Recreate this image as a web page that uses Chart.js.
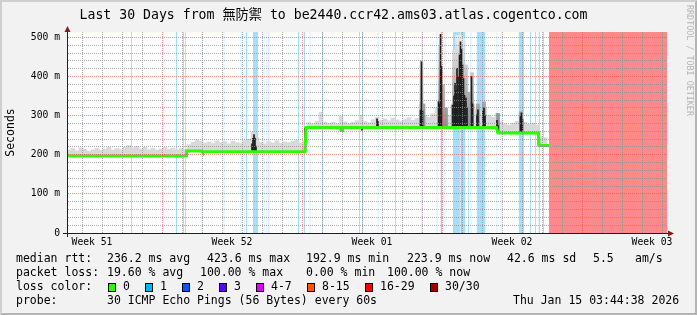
<!DOCTYPE html>
<html>
<head>
<meta charset="utf-8">
<script src="https://cdn.jsdelivr.net/npm/chart.js@4.4.1/dist/chart.umd.min.js"></script>
<style>
  html, body { margin: 0; padding: 0; background: #f2f2f2; }
  canvas { display: block; }
</style>
</head>
<body>
<canvas id="smokeChart" width="697" height="315"></canvas>
<script>
// x axis = hours since the start of the 30 day window (0..720)
const weekLabels = ['Week 51', 'Week 52', 'Week 01', 'Week 02', 'Week 03'];
const weekLabelHours = [30, 198, 366, 534, 702];
const weekStartHours = [114, 282, 450, 618];
const dayStartHours = [18, 42, 66, 90, 114, 138, 162, 186, 210, 234, 258, 282, 306, 330, 354,
  378, 402, 426, 450, 474, 498, 522, 546, 570, 594, 618, 642, 666, 690, 714];

// median rtt (ms)
const medianHours = [0, 142.8, 143.4, 162.0, 162.6, 285.6, 286.8, 328.2, 328.8, 330.0, 330.6, 515.4, 517.2, 565.8, 566.4, 578.4];
const medianMs = [197, 197, 210, 210, 208, 208, 270, 270, 262, 262, 270, 270, 256, 256, 224, 224];

// smoke: upper edge of the ping spread, one sample every 4.8 h
const smokeMs = [
  212, 216, 210, 218, 214, 209, 213, 217, 211, 215, 219, 212, 216, 213, 220, 224, 218, 221, 215, 219,
  213, 217, 212, 215, 219, 214, 217, 212, 216, 214,
  226, 232, 238, 235, 230, 233, 229, 236, 231, 234, 228, 235, 231, 229, 236, 240, 258, 244, 232, 228,
  234, 230, 236, 229, 233, 231, 235, 238, 230, 236,
  282, 279, 286, 309, 284, 280, 283, 279, 298, 284, 280, 283, 287, 301, 286, 282, 290, 296, 288, 292,
  287, 294, 289, 286,
  290, 295, 288, 293, 330, 300, 296, 305, 320, 350, 315, 300, 330, 360, 380, 350, 320, 330, 318, 312,
  320, 300, 296, 305,
  284, 279, 276, 281, 286, 310, 283, 278, 281, 276, 246, 244
];

// dark spikes of the median / dense smoke
const spikeHours = [222.0, 223.2, 224.4, 225.6, 226.8, 285.6, 329.4, 354.0, 372.0, 373.2,
  424.2, 425.4, 426.6, 445.8, 447.0, 448.2, 449.4, 462.6, 464.4, 465.6, 466.8, 468.0, 469.2,
  471.0, 472.2, 473.4, 474.6, 475.8, 477.0, 478.8, 480.0, 485.4, 486.6, 492.0, 493.2, 499.2,
  500.4, 501.6, 516.0, 517.2, 544.2, 545.4, 546.6, 565.8];
const spikeMs = [228, 242, 252, 243, 222, 268, 262, 262, 292, 285,
  314, 438, 312, 336, 330, 508, 426, 327, 350, 383, 365, 421, 400,
  455, 489, 470, 430, 395, 352, 345, 320, 400, 330, 302, 315, 311,
  320, 300, 288, 275, 298, 307, 290, 224];

// grey haze around the spikes
const hazeHours = [425.4, 427.8, 447.6, 451.2, 454.8, 464.4, 468.0, 471.6, 475.2, 478.8, 482.4, 486.0, 493.2, 500.4, 517.2, 544.8];
const hazeMs = [440, 330, 480, 380, 320, 470, 505, 505, 500, 430, 360, 410, 330, 335, 306, 310];

// packet loss periods (level = lost pings out of 30)
const lossStartHours = [76.8, 130.8, 139.2, 141.6, 161.4, 187.8, 208.2, 211.8, 214.8, 223.2, 235.8, 239.4, 241.8,
  277.2, 284.4, 291.0, 306.0, 350.4, 354.0, 372.6, 393.6, 425.4, 443.4, 448.2, 453.0, 463.2, 472.2, 474.0,
  481.2, 484.2, 491.4, 515.4, 520.2, 541.8, 555.6, 561.6, 565.8, 571.2, 578.4];
const lossEndHours = [78.0, 132.0, 140.4, 142.8, 162.6, 189.0, 209.4, 213.0, 216.0, 229.2, 237.0, 240.6, 243.0,
  278.4, 285.6, 292.2, 307.2, 351.6, 355.2, 373.8, 394.8, 426.6, 444.6, 450.0, 454.2, 472.2, 474.0, 478.2,
  482.4, 485.4, 502.2, 516.6, 521.4, 548.4, 556.8, 562.8, 567.6, 572.4, 720];
const lossLevel = [1, 1, 1, 1, 1, 1, 1, 1, 1, 1, 1, 1, 2,
  1, 1, 1, 1, 1, 1, 1, 1, 4, 1, 4, 1, 1, 2, 1,
  1, 1, 1, 1, 1, 1, 1, 1, 1, 1, 30];

const rttStats = ['236.2 ms avg', '423.6 ms max', '192.9 ms min', '223.9 ms now', '42.6 ms sd', '5.5', 'am/s'];
const lossStats = ['19.60 % avg', '100.00 % max', '0.00 % min', '100.00 % now'];
const lossColorLabels = ['0', '1', '2', '3', '4-7', '8-15', '16-29', '30/30'];
const lossColors = ['#26ff00', '#00b8ff', '#0059ff', '#5e00ff', '#dd00ff', '#ff5500', '#ff0000', '#a00000'];

const Y_MAX = 514;
const MONO = '"DejaVu Sans Mono", "Noto Sans CJK TC", monospace';
const GRID = 'rgba(143,143,143,0.75)';
const MGRID = 'rgba(222,79,79,0.6)';

function medianAt(t) {
  for (let i = 1; i < medianHours.length; i++) {
    if (t <= medianHours[i]) {
      const t0 = medianHours[i - 1], t1 = medianHours[i];
      const f = t1 === t0 ? 1 : (t - t0) / (t1 - t0);
      return medianMs[i - 1] + f * (medianMs[i] - medianMs[i - 1]);
    }
  }
  return medianMs[medianMs.length - 1];
}

function lossBand(level) {
  const pts = [];
  lossStartHours.forEach((s, i) => {
    if (lossLevel[i] !== level) return;
    pts.push({x: s, y: Y_MAX}, {x: lossEndHours[i], y: Y_MAX}, {x: lossEndHours[i], y: null});
  });
  return pts;
}

function bandSet(level, color) {
  return {
    type: 'line', data: lossBand(level), order: 10,
    borderWidth: 0, borderColor: 'transparent', backgroundColor: color,
    pointRadius: 0, fill: 'origin', spanGaps: false
  };
}

const smokeHours = smokeMs.map((_, i) => 2.4 + i * 4.8);

const frame = {
  id: 'rrdFrame',
  beforeDraw(chart) {
    const {ctx, chartArea: a, width: w, height: h} = chart;
    ctx.save();
    ctx.fillStyle = '#f2f2f2';
    ctx.fillRect(0, 0, w, h);
    ctx.fillStyle = '#cfcfcf';
    ctx.beginPath();
    ctx.moveTo(0, 0); ctx.lineTo(w, 0); ctx.lineTo(w - 2, 2); ctx.lineTo(2, 2); ctx.lineTo(2, h - 2); ctx.lineTo(0, h);
    ctx.closePath(); ctx.fill();
    ctx.fillStyle = '#b4b4b4';
    ctx.beginPath();
    ctx.moveTo(w, 0); ctx.lineTo(w, h); ctx.lineTo(0, h); ctx.lineTo(2, h - 2); ctx.lineTo(w - 2, h - 2); ctx.lineTo(w - 2, 2);
    ctx.closePath(); ctx.fill();
    ctx.fillStyle = '#ffffff';
    ctx.fillRect(a.left, a.top, a.right - a.left, a.bottom - a.top);
    ctx.restore();
  },
  afterDraw(chart) {
    const {ctx, chartArea: a} = chart;
    ctx.save();
    // axis extensions and arrows
    ctx.strokeStyle = '#1f1f1f';
    ctx.lineWidth = 1;
    ctx.beginPath();
    ctx.moveTo(a.left - 4, a.bottom + 0.5); ctx.lineTo(a.right + 2, a.bottom + 0.5);
    ctx.moveTo(a.left + 0.5, a.bottom + 4); ctx.lineTo(a.left + 0.5, a.top - 1);
    ctx.stroke();
    ctx.fillStyle = '#801f1f';
    ctx.beginPath();
    ctx.moveTo(a.right + 7, a.bottom + 0.5); ctx.lineTo(a.right + 1, a.bottom - 2.5); ctx.lineTo(a.right + 1, a.bottom + 3.5);
    ctx.closePath(); ctx.fill();
    ctx.beginPath();
    ctx.moveTo(a.left + 0.5, a.top - 6); ctx.lineTo(a.left - 2.5, a.top); ctx.lineTo(a.left + 3.5, a.top);
    ctx.closePath(); ctx.fill();

    // legend block
    ctx.font = '11.5px ' + MONO;
    ctx.fillStyle = '#000';
    ctx.textBaseline = 'middle';
    const rowY = [259.5, 273.5, 287.5, 301.5];
    ctx.fillText('median rtt:', 16, rowY[0]);
    [107, 207, 306, 407, 507, 593, 635].forEach((x, i) => ctx.fillText(rttStats[i], x, rowY[0]));
    ctx.fillText('packet loss:', 16, rowY[1]);
    [107, 200, 306, 387].forEach((x, i) => ctx.fillText(lossStats[i], x, rowY[1]));
    ctx.fillText('loss color:', 16, rowY[2]);
    const boxX = [108, 145, 182, 219, 256, 307, 365, 430];
    lossColorLabels.forEach((lab, i) => {
      ctx.fillStyle = '#000';
      ctx.fillRect(boxX[i], rowY[2] - 4.5, 8, 9);
      ctx.fillStyle = lossColors[i];
      ctx.fillRect(boxX[i] + 1, rowY[2] - 3.5, 6, 7);
      ctx.fillStyle = '#000';
      ctx.fillText(lab, boxX[i] + 15, rowY[2]);
    });
    ctx.fillText('probe:', 16, rowY[3]);
    ctx.fillText('30 ICMP Echo Pings (56 Bytes) every 60s', 107, rowY[3]);
    ctx.fillText('Thu Jan 15 03:44:38 2026', 513, rowY[3]);

    // watermark
    ctx.font = '8.4px ' + MONO;
    ctx.fillStyle = '#b4b4b4';
    ctx.translate(689, 5);
    ctx.rotate(Math.PI / 2);
    ctx.fillText('RRDTOOL / TOBI OETIKER', 0, 0);
    ctx.restore();
  }
};

new Chart(document.getElementById('smokeChart'), {
  type: 'bar',
  data: {
    datasets: [
      bandSet(1, '#a4e0fa'),
      bandSet(2, '#a6c0ff'),
      bandSet(4, '#f0a2f0'),
      bandSet(30, '#ff8888'),
      {
        type: 'bar', order: 5, grouped: false, barThickness: 4, borderWidth: 0,
        backgroundColor: '#d9d9d9',
        data: smokeHours.map((t, i) => ({x: t, y: [medianAt(t), smokeMs[i]]}))
      },
      {
        type: 'bar', order: 4, grouped: false, barThickness: 3, borderWidth: 0,
        backgroundColor: (c) => {
          const {ctx, chartArea, scales} = c.chart;
          if (!chartArea) return '#b8b8b8';
          const g = ctx.createLinearGradient(0, scales.y.getPixelForValue(505), 0, scales.y.getPixelForValue(270));
          g.addColorStop(0, '#ececec');
          g.addColorStop(1, '#8c8c8c');
          return g;
        },
        data: hazeHours.map((t, i) => ({x: t, y: [medianAt(t), hazeMs[i]]}))
      },
      {
        type: 'bar', order: 3, grouped: false, barThickness: 1, borderWidth: 0,
        backgroundColor: '#1e1e1e',
        data: spikeHours.map((t, i) => ({x: t, y: [medianAt(t), spikeMs[i]]}))
      },
      {
        type: 'line', order: 1,
        data: medianHours.map((t, i) => ({x: t, y: medianMs[i]})),
        borderColor: '#26ff00', borderWidth: 3, pointRadius: 0, tension: 0, fill: false
      }
    ]
  },
  options: {
    responsive: false,
    animation: false,
    devicePixelRatio: 1,
    layout: {padding: {left: 0, right: 30, top: 0, bottom: 0}, autoPadding: false},
    plugins: {
      legend: {display: false},
      tooltip: {enabled: false},
      title: {
        display: true,
        text: 'Last 30 Days from 無防禦 to be2440.ccr42.ams03.atlas.cogentco.com',
        color: '#000',
        font: {family: MONO, size: 13.2, weight: 'normal'},
        padding: {top: 8, bottom: 8.16}
      }
    },
    scales: {
      x: {
        type: 'linear', min: 0, max: 720, offset: false,
        afterFit: (s) => { s.height = 82; },
        afterBuildTicks: (s) => {
          s.ticks = dayStartHours.concat(weekLabelHours).sort((p, q) => p - q).map(v => ({value: v}));
        },
        ticks: {
          autoSkip: false, maxRotation: 0, padding: 4, color: '#000',
          font: {family: MONO, size: 9.7},
          callback: (v) => {
            const i = weekLabelHours.indexOf(v);
            return i >= 0 ? weekLabels[i] : '';
          }
        },
        grid: {
          z: 1, drawTicks: false, offset: false, lineWidth: 1,
          color: (c) => {
            const v = c.tick ? c.tick.value : null;
            if (weekStartHours.includes(v)) return MGRID;
            if (dayStartHours.includes(v)) return GRID;
            return 'rgba(0,0,0,0)';
          }
        },
        border: {display: true, color: '#1f1f1f', width: 1, dash: [1, 1], z: 1}
      },
      y: {
        min: 0, max: Y_MAX,
        afterFit: (s) => { s.width = 67; },
        ticks: {
          stepSize: 20, includeBounds: false, autoSkip: false, padding: 7, color: '#000',
          font: {family: MONO, size: 9.7},
          callback: (v) => (v % 100 === 0 ? (v === 0 ? '0' : v + ' m') : '')
        },
        grid: {
          z: 1, drawTicks: false, lineWidth: 1,
          color: (c) => {
            const v = c.tick ? c.tick.value : 0;
            if (v === 0) return 'rgba(0,0,0,0)';
            return v % 100 === 0 ? MGRID : GRID;
          }
        },
        border: {display: true, color: '#1f1f1f', width: 1, dash: [1, 1], z: 1},
        title: {
          display: true, text: 'Seconds', color: '#000',
          font: {family: MONO, size: 11.5}, padding: {top: 4, bottom: 0}
        }
      }
    }
  },
  plugins: [frame]
});
</script>
</body>
</html>
